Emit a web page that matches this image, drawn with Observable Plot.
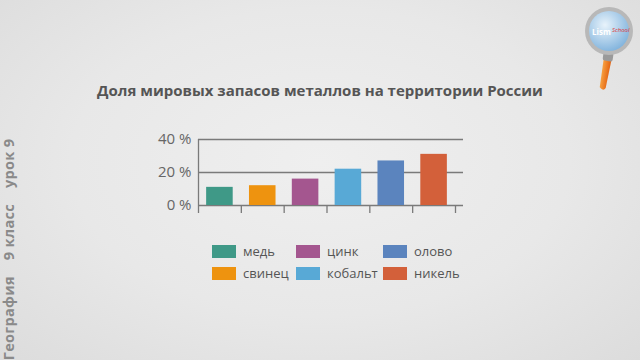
<!DOCTYPE html>
<html><head><meta charset="utf-8">
<script src="https://cdn.jsdelivr.net/npm/d3@7"></script>
<script src="https://cdn.jsdelivr.net/npm/@observablehq/plot@0.6"></script>
<style>
html,body{margin:0;padding:0;}
body{width:640px;height:360px;overflow:hidden;position:relative;font-family:"Open Sans",sans-serif;
background:radial-gradient(ellipse at 50% 45%, #efefef 0%, #e8e8e8 55%, #dcdcdc 100%);}
#chart{position:absolute;left:0;top:0;}
#title{position:absolute;left:0;width:640px;top:80px;text-align:center;font-weight:700;font-size:15px;color:#555;}
#side{position:absolute;left:-112px;top:240px;width:240px;height:19px;line-height:19px;transform:rotate(-90deg);transform-origin:50% 50%;
 font-weight:700;font-size:14.5px;color:#8a8a8a;white-space:nowrap;display:flex;justify-content:center;letter-spacing:0.3px;}
#side span+span{margin-left:16px;}
.lg{position:absolute;display:flex;align-items:center;font-size:13px;color:#555;}
.sw{width:24px;height:13px;margin-right:7px;}
#logo{position:absolute;left:578px;top:2px;}
</style></head><body>
<div id="title">Доля мировых запасов металлов на территории России</div>
<div id="side"><span>География</span><span>9 класс</span><span>урок 9</span></div>
<svg id="logo" width="62" height="92" viewBox="0 0 62 92">
 <defs><radialGradient id="gl" cx="40%" cy="35%" r="70%"><stop offset="0" stop-color="#e8f3fb"/><stop offset="1" stop-color="#7fb2dc"/></radialGradient>
 <linearGradient id="hd" x1="0" x2="1"><stop offset="0" stop-color="#f7a040"/><stop offset="1" stop-color="#e2600e"/></linearGradient></defs>
 <path d="M26 55 L34 55 L32 86 Q30 90 26 86 Z" fill="url(#hd)" transform="rotate(8 30 55)"/>
 <rect x="25" y="50" width="10" height="9" rx="2" fill="#9a9a9a" transform="rotate(8 30 55)"/>
 <circle cx="31" cy="29" r="24" fill="#b8b8b8"/>
 <circle cx="31" cy="29" r="20" fill="url(#gl)"/>
 <text x="14" y="33" font-size="8" font-weight="700" fill="#fff" font-family="Open Sans">Lism</text>
 <text x="34" y="30" font-size="6" font-style="italic" fill="#d33" font-family="Open Sans">School</text>
</svg>
<div id="chart"></div>
<script>
const metals = ["медь","свинец","цинк","кобальт","олово","никель"];
const shares = [11, 12, 16, 22, 27, 31];
const colors = ["#3f9987","#ee930f","#a4568f","#58a9d6","#5b84be","#d3603a"];
const yTicks = [0, 20, 40];

const data = metals.map((m,i)=>({metal:m, idx:i, share:shares[i]}));
const bandPad = 0.19;

const plot = Plot.plot({
  width: 640, height: 360,
  marginLeft: 198, marginRight: 177, marginTop: 139, marginBottom: 155,
  style: {background: "transparent", fontFamily: "Open Sans", fontSize: "15px", color: "#666"},
  x: {type: "linear", domain: [0, metals.length], range: [198, 455], axis: null},
  y: {type: "linear", domain: [0, 40], axis: null},
  color: {domain: metals, range: colors},
  marks: [
    Plot.gridY(yTicks, {stroke: "#7a7a7a", strokeOpacity: 1, strokeWidth: 1.3}),
    Plot.axisY(yTicks, {tickSize: 0, tickPadding: 7, tickFormat: d => d + " %", fill: "#666", fontSize: 15, label: null}),
    Plot.ruleX([0], {y1: 0, y2: 40, stroke: "#7a7a7a", strokeWidth: 1.3}),
    Plot.axisX(d3.range(metals.length + 1), {tickSize: 8, tickFormat: () => "", stroke: "#7a7a7a", strokeWidth: 1.3, label: null}),
    Plot.rectY(data, {x1: d => d.idx + bandPad, x2: d => d.idx + 1 - bandPad, y: "share", fill: "metal"})
  ]
});
document.getElementById("chart").append(plot);

const legendOrder = ["медь","свинец","цинк","кобальт","олово","никель"];
const pos = [[212,243],[212,265],[296,243],[296,265],[383,243],[383,265]];
legendOrder.forEach((m,i)=>{
  const d = document.createElement("div"); d.className="lg";
  d.style.left = pos[i][0]+"px"; d.style.top = (pos[i][1]-1)+"px";
  const s = document.createElement("div"); s.className="sw"; s.style.background = colors[metals.indexOf(m)];
  const t = document.createElement("span"); t.textContent = m;
  d.append(s,t); document.body.append(d);
});
</script>
</body></html>
